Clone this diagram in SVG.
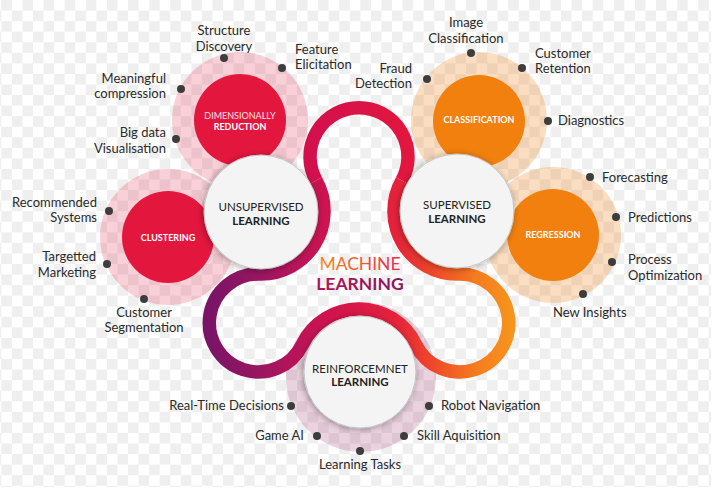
<svg xmlns="http://www.w3.org/2000/svg" width="720" height="503" viewBox="0 0 720 503">
<defs>
<pattern id="chk" patternUnits="userSpaceOnUse" x="1.3" y="0" width="21.12" height="21.12">
<rect width="21.12" height="21.12" fill="#ffffff"/>
<rect width="10.56" height="10.56" fill="#efefef"/>
<rect x="10.56" y="10.56" width="10.56" height="10.56" fill="#efefef"/>
</pattern>
<filter id="sh" x="-30%" y="-30%" width="160%" height="160%">
<feDropShadow dx="-1" dy="1" stdDeviation="3" flood-color="#000" flood-opacity="0.35"/>
</filter>
<linearGradient id="gTop" gradientUnits="userSpaceOnUse" x1="305" y1="0" x2="413" y2="0">
<stop offset="0" stop-color="#d2104f"/><stop offset="1" stop-color="#e3173e"/>
</linearGradient>
<linearGradient id="gLeft" gradientUnits="userSpaceOnUse" x1="210" y1="0" x2="359" y2="0">
<stop offset="0" stop-color="#7a1466"/><stop offset="0.35" stop-color="#9b1660"/><stop offset="0.6" stop-color="#bb1458"/><stop offset="0.8" stop-color="#d0134f"/><stop offset="1" stop-color="#da1846"/>
</linearGradient>
<linearGradient id="gRight" gradientUnits="userSpaceOnUse" x1="359" y1="0" x2="515" y2="0">
<stop offset="0" stop-color="#da1846"/><stop offset="0.25" stop-color="#e6233a"/><stop offset="0.5" stop-color="#ef4d27"/><stop offset="0.75" stop-color="#f47c1f"/><stop offset="1" stop-color="#f7961c"/>
</linearGradient>
<linearGradient id="gMach" gradientUnits="userSpaceOnUse" x1="320" y1="0" x2="400" y2="0">
<stop offset="0" stop-color="#f58a1f"/><stop offset="1" stop-color="#e8294d"/>
</linearGradient>
<linearGradient id="gLearn" gradientUnits="userSpaceOnUse" x1="317" y1="0" x2="403" y2="0">
<stop offset="0" stop-color="#b3175a"/><stop offset="1" stop-color="#86165f"/>
</linearGradient>
<style>
.lbl{font-family:Lato,"Liberation Sans",sans-serif;font-size:13px;fill:#2a2a2a}
.dot{fill:#3d3d3d}
.hp{fill:#e8294e;fill-opacity:0.22}
.ho{fill:#f08a20;fill-opacity:0.28}
.hv{fill:#a0306f;fill-opacity:0.22}
.red{fill:#e3173e}
.org{fill:#f1800e}
.ct{font-family:Lato,"Liberation Sans",sans-serif;font-size:9px;fill:#ffffff;text-anchor:middle;font-weight:bold}
.ctl{font-weight:normal;fill:#fbe3e7}
.wc{fill:#f4f4f4;stroke:#c4c4c4;stroke-width:1;filter:url(#sh)}
.wt{font-family:Lato,"Liberation Sans",sans-serif;font-size:11.5px;fill:#222;text-anchor:middle}
.b{font-weight:bold}
.rib{fill:none;stroke-width:13.5;stroke-linecap:butt}
</style>
</defs>
<rect width="720" height="503" fill="#ffffff"/>
<rect x="0" y="0" width="711" height="487" fill="url(#chk)"/>

<g id="halos">
<circle class="hp" cx="240" cy="120" r="68"/>
<circle class="hp" cx="168" cy="237" r="68"/>
<circle class="ho" cx="479" cy="120" r="68"/>
<circle class="ho" cx="553" cy="235" r="68"/>
<circle class="hv" cx="361" cy="377" r="75"/>
</g>

<g id="dimensionally-reduction">
<circle class="red" cx="240" cy="120" r="46"/>
<text class="ct ctl" x="240" y="118.5">DIMENSIONALLY</text>
<text class="ct" x="240" y="129.5">REDUCTION</text>
</g>
<g id="clustering">
<circle class="red" cx="168" cy="237" r="46"/>
<text class="ct" x="168" y="241">CLUSTERING</text>
</g>
<g id="classification">
<circle class="org" cx="479" cy="121" r="46"/>
<text class="ct" x="479" y="123">CLASSIFICATION</text>
</g>
<g id="regression">
<circle class="org" cx="553" cy="235" r="46"/>
<text class="ct" x="553" y="238">REGRESSION</text>
</g>

<g id="connectors">
<path class="rib" stroke="url(#gTop)" d="M 401.87 180.50 A 49 49 0 1 0 316.13 180.50"/>
<path class="rib" stroke="url(#gLeft)" d="M 316.13 180.50 A 63 63 0 0 1 259.48 273.98 A 49 49 0 1 0 302.36 344.42 A 63 63 0 0 1 359 309"/>
<path class="rib" stroke="url(#gRight)" d="M 359 309 A 63 63 0 0 1 415.64 344.42 A 49 49 0 1 0 458.52 273.98 A 63 63 0 0 1 401.87 180.50"/>
</g>

<g id="unsupervised-learning">
<circle class="wc" cx="261" cy="212" r="57"/>
<text class="wt" x="261" y="211">UNSUPERVISED</text>
<text class="wt b" x="261" y="225">LEARNING</text>
</g>
<g id="supervised-learning">
<circle class="wc" cx="457" cy="211" r="57"/>
<text class="wt" x="457" y="209">SUPERVISED</text>
<text class="wt b" x="457" y="223">LEARNING</text>
</g>
<g id="reinforcement-learning">
<circle class="wc" cx="360" cy="372" r="56"/>
<text class="wt" x="360" y="373">REINFORCEMNET</text>
<text class="wt b" x="360" y="386">LEARNING</text>
</g>

<g id="machine-learning">
<text x="360" y="270" text-anchor="middle" font-family="Lato,'Liberation Sans',sans-serif" font-size="17.5" fill="url(#gMach)">MACHINE</text>
<text x="360" y="290" text-anchor="middle" font-family="Lato,'Liberation Sans',sans-serif" font-size="17.5" font-weight="bold" fill="url(#gLearn)">LEARNING</text>
</g>

<g id="dr-items">
<circle class="dot" cx="224" cy="58" r="4"/>
<text class="lbl" x="224" y="35" text-anchor="middle">Structure</text>
<text class="lbl" x="224" y="51" text-anchor="middle">Discovery</text>
<circle class="dot" cx="282" cy="68" r="4"/>
<text class="lbl" x="295" y="54">Feature</text>
<text class="lbl" x="295" y="69">Elicitation</text>
<circle class="dot" cx="181" cy="89" r="4"/>
<text class="lbl" x="166" y="83" text-anchor="end">Meaningful</text>
<text class="lbl" x="166" y="98" text-anchor="end">compression</text>
<circle class="dot" cx="176" cy="139" r="4"/>
<text class="lbl" x="166" y="137" text-anchor="end">Big data</text>
<text class="lbl" x="166" y="153" text-anchor="end">Visualisation</text>
</g>
<g id="clustering-items">
<circle class="dot" cx="109" cy="211" r="4"/>
<text class="lbl" x="97" y="207" text-anchor="end">Recommended</text>
<text class="lbl" x="97" y="222" text-anchor="end">Systems</text>
<circle class="dot" cx="107" cy="264" r="4"/>
<text class="lbl" x="96" y="261" text-anchor="end">Targetted</text>
<text class="lbl" x="96" y="277" text-anchor="end">Marketing</text>
<circle class="dot" cx="144" cy="299" r="4"/>
<text class="lbl" x="144" y="317" text-anchor="middle">Customer</text>
<text class="lbl" x="144" y="332" text-anchor="middle">Segmentation</text>
</g>
<g id="classification-items">
<circle class="dot" cx="471" cy="53" r="4"/>
<text class="lbl" x="466" y="27" text-anchor="middle">Image</text>
<text class="lbl" x="466" y="43" text-anchor="middle">Classification</text>
<circle class="dot" cx="427" cy="79" r="4"/>
<text class="lbl" x="412" y="73" text-anchor="end">Fraud</text>
<text class="lbl" x="412" y="88" text-anchor="end">Detection</text>
<circle class="dot" cx="522" cy="68" r="4"/>
<text class="lbl" x="535" y="58">Customer</text>
<text class="lbl" x="535" y="73">Retention</text>
<circle class="dot" cx="548" cy="121" r="4"/>
<text class="lbl" x="558" y="125">Diagnostics</text>
</g>
<g id="regression-items">
<circle class="dot" cx="590" cy="177" r="4"/>
<text class="lbl" x="602" y="182">Forecasting</text>
<circle class="dot" cx="616" cy="217" r="4"/>
<text class="lbl" x="628" y="222">Predictions</text>
<circle class="dot" cx="612" cy="262" r="4"/>
<text class="lbl" x="628" y="264">Process</text>
<text class="lbl" x="628" y="280">Optimization</text>
<circle class="dot" cx="583" cy="294" r="4"/>
<text class="lbl" x="553" y="317">New Insights</text>
</g>
<g id="reinforcement-items">
<circle class="dot" cx="291" cy="406" r="4"/>
<text class="lbl" x="284" y="410" text-anchor="end">Real-Time Decisions</text>
<circle class="dot" cx="317" cy="436" r="4"/>
<text class="lbl" x="304" y="440" text-anchor="end">Game AI</text>
<circle class="dot" cx="360" cy="451" r="4"/>
<text class="lbl" x="360" y="469" text-anchor="middle">Learning Tasks</text>
<circle class="dot" cx="404" cy="436" r="4"/>
<text class="lbl" x="417" y="440">Skill Aquisition</text>
<circle class="dot" cx="429" cy="406" r="4"/>
<text class="lbl" x="441" y="410">Robot Navigation</text>
</g>
</svg>
